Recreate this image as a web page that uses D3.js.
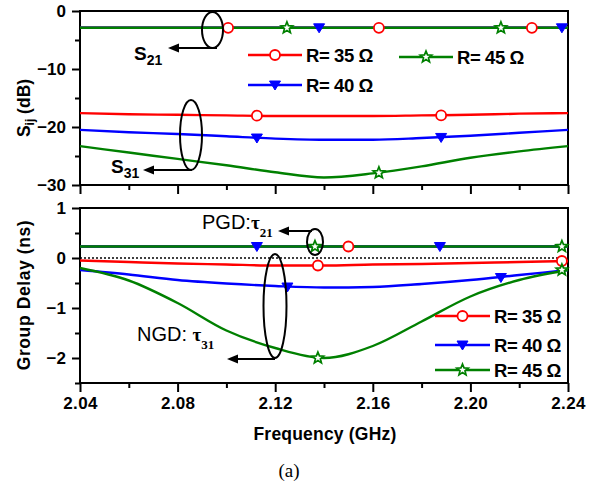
<!DOCTYPE html>
<html><head><meta charset="utf-8">
<script src="https://cdn.jsdelivr.net/npm/d3@7"></script>
<style>body{margin:0;background:#fff}svg{display:block}</style>
</head><body><div id="chart"></div>
<script>
// ---------- DATA ----------
const freqs = [2.04, 2.06, 2.08, 2.10, 2.12, 2.14, 2.16, 2.18, 2.20, 2.22, 2.24];
const seriesNames = ["R= 35 Ω", "R= 40 Ω", "R= 45 Ω"];
const seriesColors = ["#ff0000", "#0000ff", "#008000"];
// S21 (dB)
const s21_R35 = [-2.9, -2.9, -2.9, -2.9, -2.9, -2.9, -2.9, -2.9, -2.9, -2.9, -2.9];
const s21_R40 = [-2.9, -2.9, -2.9, -2.9, -2.9, -2.9, -2.9, -2.9, -2.9, -2.9, -2.9];
const s21_R45 = [-2.9, -2.9, -2.9, -2.9, -2.9, -2.9, -2.9, -2.9, -2.9, -2.9, -2.9];
// S31 (dB)
const s31_R35 = [-17.6, -17.8, -17.9, -18.0, -18.1, -18.1, -18.1, -18.0, -17.9, -17.7, -17.6];
const s31_R40 = [-20.5, -20.9, -21.2, -21.6, -22.0, -22.2, -22.2, -21.9, -21.5, -21.0, -20.5];
const s31_R45 = [-23.3, -24.4, -25.5, -26.6, -27.8, -28.7, -28.0, -26.8, -25.3, -24.2, -23.3];
// tau21 (ns)
const tau21_R35 = [0.23, 0.23, 0.23, 0.23, 0.23, 0.23, 0.23, 0.23, 0.23, 0.23, 0.23];
const tau21_R40 = [0.23, 0.23, 0.23, 0.23, 0.23, 0.23, 0.23, 0.23, 0.23, 0.23, 0.23];
const tau21_R45 = [0.23, 0.23, 0.23, 0.23, 0.23, 0.23, 0.23, 0.23, 0.23, 0.23, 0.23];
// tau31 (ns)
const tau31_R35 = [-0.05, -0.08, -0.11, -0.13, -0.15, -0.15, -0.13, -0.12, -0.10, -0.08, -0.06];
const tau31_R40 = [-0.24, -0.33, -0.44, -0.51, -0.56, -0.59, -0.58, -0.52, -0.44, -0.34, -0.24];
const tau31_R45 = [-0.20, -0.45, -0.90, -1.45, -1.80, -2.00, -1.76, -1.27, -0.77, -0.44, -0.24];
// marker positions [freq, value]
const mk_s21_R35 = [[2.1007, -2.9], [2.1625, -2.9], [2.2252, -2.9]];
const mk_s21_R40 = [[2.138, -2.9], [2.2375, -2.9]];
const mk_s21_R45 = [[2.1248, -2.9], [2.2125, -2.9]];
const mk_s31_R35 = [[2.1125, -18.05], [2.188, -18.0]];
const mk_s31_R40 = [[2.1125, -21.9], [2.188, -21.8]];
const mk_s31_R45 = [[2.1625, -27.9]];
const mk_tau21_R35 = [[2.150, 0.23]];
const mk_tau21_R40 = [[2.1125, 0.23], [2.1875, 0.23]];
const mk_tau21_R45 = [[2.1363, 0.23], [2.2375, 0.23]];
const mk_tau31_R35 = [[2.1375, -0.15], [2.2375, -0.06]];
const mk_tau31_R40 = [[2.125, -0.58], [2.2125, -0.39]];
const mk_tau31_R45 = [[2.1375, -2.0], [2.2375, -0.24]];
// ticks
const xMajorTicks = [2.04, 2.08, 2.12, 2.16, 2.20, 2.24];
const xMinorTicks = [2.06, 2.10, 2.14, 2.18, 2.22];
const topYMajor = [0, -10, -20, -30];
const topYMinor = [-5, -15, -25];
const botYMajor = [1, 0, -1, -2];
const botYMinor = [0.5, -0.5, -1.5, -2.5];

// ---------- CHART ----------
const W = 603, H = 488;
const svg = d3.select("#chart").append("svg").attr("width", W).attr("height", H);
const SANS = "'Liberation Sans', Arial, sans-serif";
const SERIF = "'Liberation Serif', 'Times New Roman', serif";

const x = d3.scaleLinear().domain([2.04, 2.24]).range([80, 568]);
const yTop = d3.scaleLinear().domain([-30, 0]).range([185, 11]);
const yBot = d3.scaleLinear().domain([-2.5, 1]).range([383, 208]);

function axisStyle(g) {
  g.selectAll("path,line").attr("stroke", "#000").attr("stroke-width", 2);
  g.selectAll("text").attr("font-family", SANS).attr("font-weight", "bold")
    .attr("font-size", 17).attr("fill", "#000");
}

function drawAxes(y, top, bottom, yMajor, yMinor, labelX) {
  svg.append("g").attr("transform", `translate(0,${bottom})`)
    .call(d3.axisBottom(x).tickValues(xMinorTicks).tickSize(5).tickSizeOuter(0).tickFormat(""))
    .call(axisStyle).select(".domain").remove();
  const gx = svg.append("g").attr("transform", `translate(0,${bottom})`)
    .call(d3.axisBottom(x).tickValues(xMajorTicks).tickSize(9).tickSizeOuter(0)
      .tickFormat(labelX ? d3.format(".2f") : ""))
    .call(axisStyle);
  gx.select(".domain").remove();
  gx.selectAll("text").attr("dy", "0.85em").attr("letter-spacing", "0.3px");
  svg.append("g").attr("transform", "translate(80,0)")
    .call(d3.axisLeft(y).tickValues(yMinor).tickSize(5).tickSizeOuter(0).tickFormat(""))
    .call(axisStyle).select(".domain").remove();
  const gy = svg.append("g").attr("transform", "translate(80,0)")
    .call(d3.axisLeft(y).tickValues(yMajor).tickSize(8).tickSizeOuter(0).tickFormat(d3.format("d")))
    .call(axisStyle);
  gy.select(".domain").remove();
  gy.selectAll("text").attr("x", -14);
  svg.append("rect").attr("x", 80).attr("y", top).attr("width", 488).attr("height", bottom - top)
    .attr("fill", "none").attr("stroke", "#000").attr("stroke-width", 2);
}

function drawLine(y, vals, color) {
  const line = d3.line().x((d, i) => x(freqs[i])).y(d => y(d)).curve(d3.curveMonotoneX);
  svg.append("path").datum(vals).attr("d", line).attr("fill", "none")
    .attr("stroke", color).attr("stroke-width", 2.4);
}

function starPath(cx, cy, R, r) {
  const pts = [];
  for (let i = 0; i < 10; i++) {
    const a = -Math.PI / 2 + i * Math.PI / 5;
    const rr = i % 2 === 0 ? R : r;
    pts.push([cx + rr * Math.cos(a), cy + rr * Math.sin(a)]);
  }
  return "M" + pts.map(p => p.join(",")).join("L") + "Z";
}

function marker(kind, cx, cy) {
  if (kind === 0) {
    svg.append("circle").attr("cx", cx).attr("cy", cy).attr("r", 5)
      .attr("fill", "#fff").attr("stroke", seriesColors[0]).attr("stroke-width", 1.8);
  } else if (kind === 1) {
    svg.append("path").attr("d", `M${cx - 5.5},${cy - 4}L${cx + 5.5},${cy - 4}L${cx},${cy + 5}Z`)
      .attr("fill", seriesColors[1]).attr("stroke", seriesColors[1]).attr("stroke-width", 1);
  } else {
    svg.append("path").attr("d", starPath(cx, cy, 6, 2.6))
      .attr("fill", "#fff").attr("stroke", seriesColors[2]).attr("stroke-width", 1.7);
  }
}

function drawMarkers(y, pts, kind) {
  pts.forEach(p => marker(kind, x(p[0]), y(p[1])));
}

function legendRow(kind, x1, x2, yy, label) {
  svg.append("line").attr("x1", x1).attr("x2", x2).attr("y1", yy).attr("y2", yy)
    .attr("stroke", seriesColors[kind]).attr("stroke-width", 2.4);
  marker(kind, (x1 + x2) / 2, yy);
  svg.append("text").attr("x", x2 + 4).attr("y", yy + 7).text(label)
    .attr("font-family", SANS).attr("font-weight", "bold").attr("font-size", 18.5)
    .attr("letter-spacing", "-0.4px");
}

function ellipse(cx, cy, rx, ry) {
  svg.append("ellipse").attr("cx", cx).attr("cy", cy).attr("rx", rx).attr("ry", ry)
    .attr("fill", "none").attr("stroke", "#000").attr("stroke-width", 2);
}
function arrow(x1, yy, tip) {
  svg.append("line").attr("x1", x1).attr("x2", tip + 8).attr("y1", yy).attr("y2", yy)
    .attr("stroke", "#000").attr("stroke-width", 2);
  svg.append("path").attr("d", `M${tip},${yy}L${tip + 11},${yy - 4.5}L${tip + 11},${yy + 4.5}Z`).attr("fill", "#000");
}

// ---- top panel ----
drawAxes(yTop, 11, 185, topYMajor, topYMinor, false);
[s31_R35, s31_R40, s31_R45].forEach((v, i) => drawLine(yTop, v, seriesColors[i]));
[s21_R35, s21_R40, s21_R45].forEach((v, i) => drawLine(yTop, v, seriesColors[i]));
drawMarkers(yTop, mk_s31_R35, 0); drawMarkers(yTop, mk_s31_R40, 1); drawMarkers(yTop, mk_s31_R45, 2);
drawMarkers(yTop, mk_s21_R35, 0); drawMarkers(yTop, mk_s21_R40, 1); drawMarkers(yTop, mk_s21_R45, 2);

legendRow(0, 248, 302, 55, seriesNames[0]);
legendRow(1, 248, 302, 85, seriesNames[1]);
legendRow(2, 399, 453, 57, seriesNames[2]);

ellipse(212.5, 30, 10.5, 18);
arrow(217, 48, 168);
ellipse(191, 135, 11, 35);
arrow(192, 170, 143);

function subLabel(xx, yy, main, sub) {
  const t = svg.append("text").attr("x", xx).attr("y", yy)
    .attr("font-family", SANS).attr("font-weight", "bold").attr("font-size", 19);
  t.append("tspan").text(main);
  t.append("tspan").text(sub).attr("font-size", 14).attr("dy", 5);
}
subLabel(134, 60, "S", "21");
subLabel(111, 173, "S", "31");

// y title top
const yt1 = svg.append("text").attr("transform", "translate(30,108) rotate(-90)")
  .attr("text-anchor", "middle").attr("font-family", SANS).attr("font-weight", "bold").attr("font-size", 17.5);
yt1.append("tspan").text("S");
yt1.append("tspan").text("ij").attr("font-size", 12).attr("dy", 4);
yt1.append("tspan").text(" (dB)").attr("dy", -4);

// ---- bottom panel ----
drawAxes(yBot, 208, 383, botYMajor, botYMinor, true);
svg.append("line").attr("x1", 80).attr("x2", 568).attr("y1", yBot(0)).attr("y2", yBot(0))
  .attr("stroke", "#000").attr("stroke-width", 1.3).attr("stroke-dasharray", "2,2");
[tau31_R35, tau31_R40, tau31_R45].forEach((v, i) => drawLine(yBot, v, seriesColors[i]));
[tau21_R35, tau21_R40, tau21_R45].forEach((v, i) => drawLine(yBot, v, seriesColors[i]));
drawMarkers(yBot, mk_tau31_R35, 0); drawMarkers(yBot, mk_tau31_R40, 1); drawMarkers(yBot, mk_tau31_R45, 2);
drawMarkers(yBot, mk_tau21_R35, 0); drawMarkers(yBot, mk_tau21_R40, 1); drawMarkers(yBot, mk_tau21_R45, 2);

legendRow(0, 435, 490, 316, seriesNames[0]);
legendRow(1, 435, 490, 345, seriesNames[1]);
legendRow(2, 435, 490, 370, seriesNames[2]);

ellipse(315, 242, 8, 13);
arrow(312, 231, 278);
ellipse(275, 306, 11.5, 52);
arrow(275, 359, 227);

function tauLabel(xx, yy, main, sub) {
  const t = svg.append("text").attr("x", xx).attr("y", yy)
    .attr("font-family", SANS).attr("font-size", 20);
  t.append("tspan").text(main);
  t.append("tspan").text("τ").attr("font-family", SERIF).attr("font-weight", "bold").attr("font-size", 19);
  t.append("tspan").text(sub).attr("font-family", SERIF).attr("font-weight", "bold").attr("font-size", 13).attr("dy", 8);
}
tauLabel(202, 229, "PGD:", "21");
tauLabel(137, 341, "NGD: ", "31");

svg.append("text").attr("transform", "translate(30,295) rotate(-90)")
  .attr("text-anchor", "middle").attr("font-family", SANS).attr("font-weight", "bold")
  .attr("font-size", 17.5).attr("letter-spacing", "0.6px").text("Group Delay (ns)");

svg.append("text").attr("x", 325).attr("y", 440).attr("text-anchor", "middle")
  .attr("font-family", SANS).attr("font-weight", "bold").attr("font-size", 17.5)
  .attr("letter-spacing", "0.2px").text("Frequency (GHz)");

svg.append("text").attr("x", 289).attr("y", 477).attr("text-anchor", "middle")
  .attr("font-family", SERIF).attr("font-size", 19).text("(a)");
</script></body></html>
